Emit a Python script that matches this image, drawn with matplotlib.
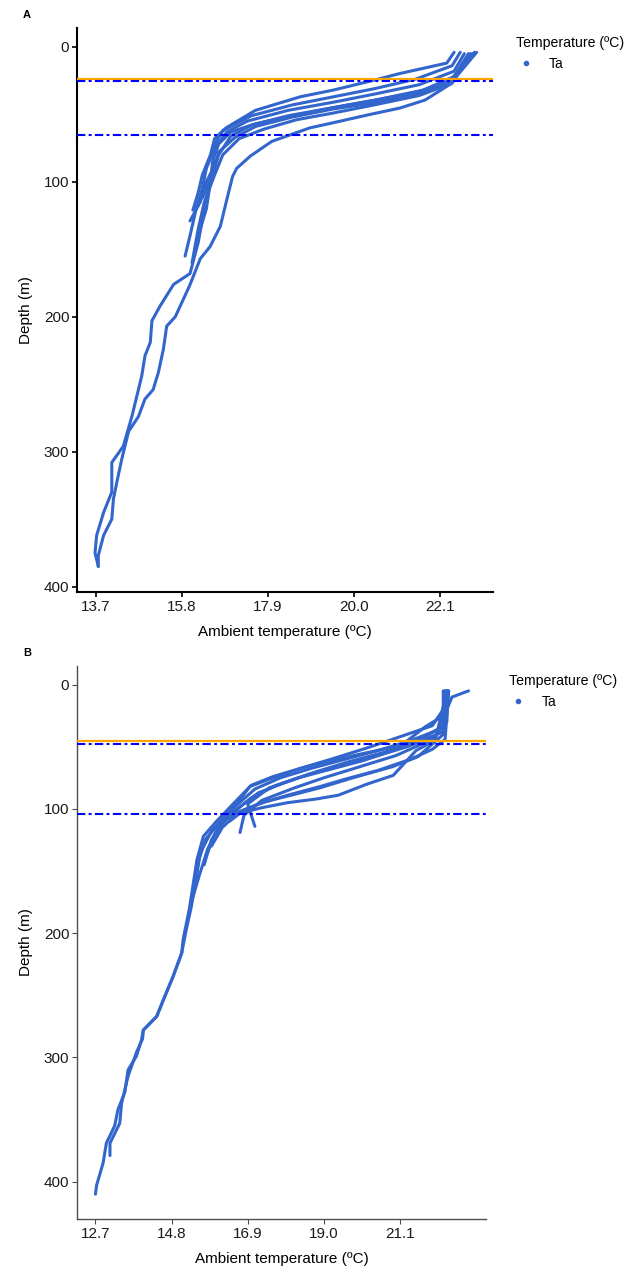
import matplotlib
matplotlib.use("Agg")
import matplotlib.pyplot as plt
from matplotlib.lines import Line2D

plt.rcParams['font.family'] = ['Liberation Sans', 'DejaVu Sans']

# ---------------- Panel A: temperature (degC) / depth (m) traces ----------------
a1_temp = [22.95, 22.8, 22.55, 22.35, 21.6, 20.6, 19.5, 18.5, 17.6, 17.0, 16.7, 16.55, 16.5,
           16.35, 16.2, 16.0, 15.6, 15.27, 15.07, 15.03, 14.9, 14.82, 14.66, 14.58, 14.37,
           14.09, 14.09, 13.89, 13.72, 13.68, 13.76]
a1_depth = [4, 10, 18, 25, 33, 39, 45, 51, 57, 63, 72, 85, 100, 120, 145, 168, 176, 192, 203,
            219, 229, 244, 264, 274, 296, 308, 330, 345, 362, 375, 385]

a2_temp = [22.9, 22.7, 22.5, 22.39, 21.74, 21.13, 20.33, 19.5, 18.93, 18.0, 17.47, 17.14, 17.04,
           16.9, 16.74, 16.49, 16.25, 15.99, 15.64, 15.43, 15.35, 15.23, 15.1, 14.9, 14.74, 14.5,
           14.33, 14.21, 14.13, 14.09, 13.89, 13.76, 13.76]
a2_depth = [5, 12, 20, 27, 39.4, 45.3, 50.5, 56.2, 60, 70, 81, 90, 96, 113, 133, 148, 157, 177,
            200, 207, 224, 241, 254, 261, 274, 285, 306, 323, 335, 350, 362, 377, 385]

a3_temp = [22.45, 22.27, 21.13, 20.33, 19.5, 18.69, 17.6, 16.88, 16.6, 16.5, 16.3, 16.2, 16.07]
a3_depth = [4, 12, 19.7, 25.9, 32, 37, 47, 60, 68, 80, 95, 108, 121]

a4_temp = [22.6, 22.4, 21.5, 20.5, 19.5, 18.5, 17.5, 16.8, 16.55, 16.6, 16.4, 16.25, 16.0]
a4_depth = [4, 14, 24, 31, 37, 43, 51, 62, 75, 88, 100, 115, 129]

a5_temp = [22.7, 22.45, 21.6, 20.5, 19.5, 18.4, 17.4, 16.9, 16.6, 16.4, 16.3, 16.15, 16.0, 15.88]
a5_depth = [5, 18, 28, 35, 41, 47, 55, 63, 75, 90, 105, 120, 140, 155]

a6_temp = [22.8, 22.45, 21.7, 20.6, 19.5, 18.4, 17.5, 17.0, 16.7, 16.5, 16.4, 16.2]
a6_depth = [5, 22, 32, 39, 45, 51, 58, 66, 80, 100, 120, 140]

a7_temp = [22.85, 22.4, 21.6, 20.5, 19.5, 18.6, 17.8, 17.2, 16.8, 16.6, 16.35, 16.2, 16.05]
a7_depth = [5, 27, 36, 43, 49, 54, 61, 68, 80, 95, 115, 135, 160]

a8_temp = [23.0, 22.45, 21.7, 20.6, 19.5, 18.5, 17.6, 17.1, 16.7, 16.55, 16.3]
a8_depth = [4, 24, 34, 41, 46, 52, 59, 67, 78, 95, 112]

a_ticks = [13.7, 15.8, 17.9, 20.0, 22.1]
a_orange = 24
a_blue = [25, 65]

# ---------------- Panel B ----------------
b1_temp = [22.3, 22.3, 22.2, 21.6, 20.8, 20.0, 19.2, 18.4, 17.6, 17.0, 16.5, 16.04, 15.68, 15.5,
           15.4, 15.3, 15.12, 15.08, 14.84, 14.57, 14.39, 14.02, 13.97, 13.83, 13.6, 13.51,
           13.32, 13.23, 13.0, 12.91, 12.73, 12.7]
b1_depth = [5, 20, 35, 45, 51, 56, 61, 67, 74, 81, 96, 110, 122, 141, 160, 179, 205, 216, 235,
            254, 267, 278, 286, 299, 310, 328, 342, 355, 369, 385, 403, 410]

b2_temp = [22.45, 22.4, 22.35, 22.0, 21.4, 20.5, 19.6, 18.9, 18.0, 17.2, 16.6, 16.1, 15.75,
           15.55, 15.45, 15.35, 15.2, 15.08, 14.84, 14.57, 14.39, 14.02, 14.0, 13.83, 13.6,
           13.42, 13.37, 13.1, 13.1]
b2_depth = [5, 25, 44, 52, 60, 69, 76, 82, 89, 96, 103, 112, 124, 141, 160, 178, 198, 216, 235,
            254, 267, 278, 285, 296, 315, 337, 353, 369, 379]

b3_temp = [22.35, 22.3, 22.0, 21.1, 20.19, 19.27, 18.35, 17.5, 16.96, 16.7, 16.3, 15.9, 15.6, 15.45]
b3_depth = [5, 20, 33, 42, 51, 59.4, 67.5, 76, 82, 92, 105, 118, 135, 160]

b4_temp = [23.0, 22.54, 22.4, 22.2, 21.4, 20.5, 19.6, 18.7, 17.8, 17.1, 16.6, 16.2, 15.9, 15.7]
b4_depth = [5, 10, 20, 36, 45, 53, 60, 67, 75, 84, 97, 110, 125, 145]

b5_temp = [22.4, 22.35, 22.3, 21.5, 20.6, 19.7, 18.8, 18.0, 17.2, 16.7, 16.3, 16.0, 15.75]
b5_depth = [5, 20, 38, 47, 55, 62, 70, 78, 87, 98, 108, 120, 138]

b6_temp = [22.4, 22.4, 22.1, 21.3, 20.4, 19.5, 18.6, 17.7, 17.0, 16.5, 16.1, 15.8, 15.55, 15.3]
b6_depth = [5, 25, 41, 50, 58, 65, 72, 81, 91, 103, 115, 132, 155, 180]

b7_temp = [22.35, 22.3, 21.8, 21.0, 20.1, 19.2, 18.3, 17.5, 16.9, 17.1]
b7_depth = [5, 25, 34, 52, 61, 68, 75, 83, 96, 114]

b8_temp = [22.4, 22.4, 22.0, 21.0, 20.0, 19.0, 18.2, 17.3, 16.8, 16.69]
b8_depth = [5, 30, 44, 57, 66, 75, 83, 93, 105, 119]

b9_temp = [22.4, 22.08, 21.55, 20.92, 20.2, 19.4, 18.8, 18.0, 17.3, 16.6, 16.2, 15.9]
b9_depth = [5, 44.7, 53, 73, 80, 89, 92, 95, 99, 104, 115, 130]

b10_temp = [22.45, 22.3, 21.6, 20.9, 19.8, 18.9, 18.1, 17.4, 16.8, 16.4]
b10_depth = [5, 40, 58, 66, 75, 83, 89, 94, 101, 110]

b_ticks = [12.7, 14.8, 16.9, 19.0, 21.1]
b_orange = 45
b_blue = [48, 104]

depth_ticks = [0, 100, 200, 300, 400]

POINT_BLUE = '#3366CC'
W, H = 625, 1267
fig = plt.figure(figsize=(W / 100, H / 100), dpi=100)


def px_axes(left, top, right, bottom):
    return fig.add_axes([left / W, 1 - bottom / H, (right - left) / W, (bottom - top) / H])


def draw_panel(ax, traces, ticks, xlim, ylim, orange, blues, spine_color, spine_w):
    for t, d in traces:
        ax.plot(t, d, color=POINT_BLUE, lw=2.2, solid_capstyle='round',
                solid_joinstyle='round', zorder=2)
    ax.axhline(orange, color='#FFA500', lw=1.6, zorder=3)
    for b in blues:
        ax.axhline(b, color='#0000FF', lw=1.5, dashes=(4, 1.6, 1.4, 1.6), zorder=3)
    ax.set_xlim(*xlim)
    ax.set_ylim(*ylim)
    ax.set_xticks(ticks)
    ax.set_xticklabels([f'{v:.1f}' for v in ticks])
    ax.set_yticks(depth_ticks)
    for s in ('top', 'right'):
        ax.spines[s].set_visible(False)
    for s in ('left', 'bottom'):
        ax.spines[s].set_color(spine_color)
        ax.spines[s].set_linewidth(spine_w)
    ax.tick_params(length=3.5, width=spine_w * 0.8, color=spine_color, labelsize=11,
                   labelcolor='#1a1a1a', pad=2)
    ax.set_xlabel('Ambient temperature (ºC)', fontsize=11, labelpad=8)
    ax.set_ylabel('Depth (m)', fontsize=11, labelpad=8)
    handle = Line2D([], [], marker='o', ls='', color=POINT_BLUE, markersize=3)
    leg = ax.legend([handle], ['Ta'], title='Temperature (ºC)', loc='upper left',
                    bbox_to_anchor=(1.035, 1.0), frameon=False, fontsize=10,
                    title_fontsize=10.2, handlelength=1.4, handletextpad=1.0,
                    borderaxespad=0.2)
    leg._legend_box.align = 'left'


ax_a = px_axes(77, 28, 493, 592)
draw_panel(ax_a,
           [(a1_temp, a1_depth), (a2_temp, a2_depth), (a3_temp, a3_depth),
            (a4_temp, a4_depth), (a5_temp, a5_depth), (a6_temp, a6_depth),
            (a7_temp, a7_depth), (a8_temp, a8_depth)],
           a_ticks, (13.24, 23.4), (404, -14), a_orange, a_blue, 'black', 1.5)

ax_b = px_axes(77, 666, 486, 1219)
draw_panel(ax_b,
           [(b1_temp, b1_depth), (b2_temp, b2_depth), (b3_temp, b3_depth),
            (b4_temp, b4_depth), (b5_temp, b5_depth), (b6_temp, b6_depth),
            (b7_temp, b7_depth), (b8_temp, b8_depth), (b9_temp, b9_depth),
            (b10_temp, b10_depth)],
           b_ticks, (12.19, 23.48), (430, -15), b_orange, b_blue, '#4d4d4d', 1.0)

fig.text(27 / W, 1 - 15 / H, 'A', fontsize=8, fontweight='bold', ha='center', va='center')
fig.text(27 / W, 1 - 653 / H, 'B', fontsize=8, fontweight='bold', ha='center', va='center')

fig.savefig('out.png', dpi=100, facecolor='white')
